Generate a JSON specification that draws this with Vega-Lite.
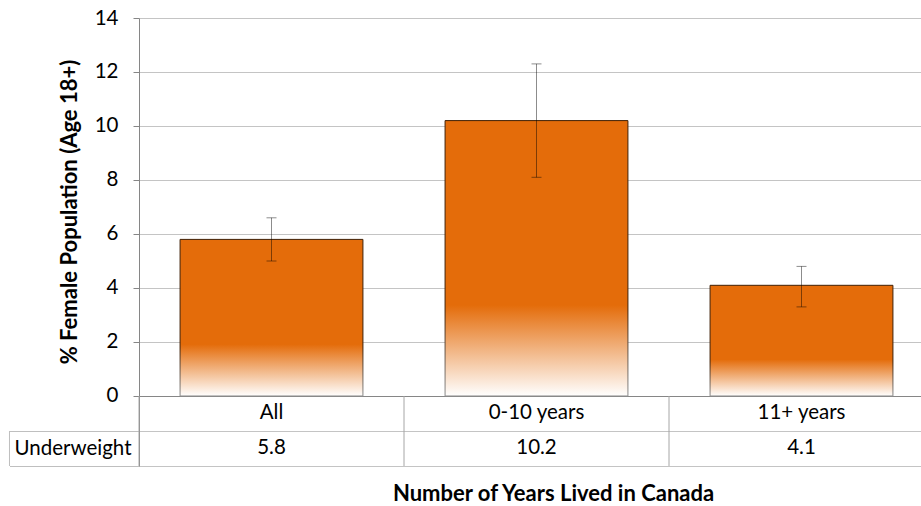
{
  "$schema": "https://vega.github.io/schema/vega-lite/v6.json",
  "width": 782,
  "height": 448,
  "autosize": "none",
  "padding": {"left": 139, "top": 18, "right": 0, "bottom": 40},
  "background": "white",
  "config": {"view": {"stroke": null}, "font": "Lato"},
  "data": {
    "values": [
      {"period": "All", "pct": 5.8, "lo": 5.0, "hi": 6.6},
      {"period": "0-10 years", "pct": 10.2, "lo": 8.1, "hi": 12.3},
      {"period": "11+ years", "pct": 4.1, "lo": 3.3, "hi": 4.8}
    ]
  },
  "encoding": {
    "x": {
      "field": "period",
      "type": "nominal",
      "sort": null,
      "scale": {"domain": ["All", "0-10 years", "11+ years"], "range": [0, 795], "paddingInner": 0, "paddingOuter": 0},
      "axis": {
        "domain": false,
        "ticks": false,
        "labels": false,
        "grid": false,
        "title": "Number of Years Lived in Canada",
        "titleFont": "Lato",
        "titleFontSize": 22,
        "titleFontWeight": "bold",
        "titleColor": "#000000",
        "titleX": 414,
        "titleY": 34,
        "titleBaseline": "alphabetic",
        "titleAlign": "center"
      }
    }
  },
  "layer": [
    {
      "mark": {
        "type": "bar",
        "width": {"band": 0.69},
        "fill": {
          "gradient": "linear",
          "x1": 0, "y1": 0, "x2": 0, "y2": 1,
          "stops": [
            {"offset": 0, "color": "#E46C0A"},
            {"offset": 0.67, "color": "#E46C0A"},
            {"offset": 1, "color": "#FFFFFF"}
          ]
        },
        "stroke": {
          "gradient": "linear",
          "x1": 0, "y1": 0, "x2": 0, "y2": 1,
          "stops": [
            {"offset": 0, "color": "#3F1F04"},
            {"offset": 0.69, "color": "#3F1F04"},
            {"offset": 1, "color": "#8C8C8C"}
          ]
        },
        "strokeWidth": 1
      },
      "encoding": {
        "y": {
          "field": "pct",
          "type": "quantitative",
          "scale": {"domain": [-2.5926, 14], "nice": false, "zero": false},
          "axis": {
            "title": "% Female Population (Age 18+)",
            "values": [0, 2, 4, 6, 8, 10, 12, 14, -1.2963, -2.5926, -1.9444],
            "labelExpr": "datum.value < -2 ? '' : datum.value < -1.5 ? 'Underweight' : datum.value < 0 ? '' : datum.label",
            "labelFont": "Lato",
            "labelFontSize": 20.5,
            "labelColor": "#000000",
            "labelBaseline": "middle",
            "labelPadding": {"condition": {"test": "datum.value < -1.5 && datum.value > -2", "value": 2}, "value": 15},
            "tickSize": {"condition": {"test": "datum.value < -1 && abs(datum.value + 1.9444) > 0.01", "value": 129.5}, "value": 6},
            "tickColor": {"condition": [{"test": "abs(datum.value + 1.9444) < 0.01", "value": "transparent"}, {"test": "datum.value < 0", "value": "#BFBFBF"}], "value": "#868686"},
            "gridColor": {"condition": [{"test": "abs(datum.value + 1.9444) < 0.01", "value": "transparent"}, {"test": "datum.value === 0", "value": "#868686"}], "value": "#C4C4C4"},
            "domainColor": "#868686",
            "titleFont": "Lato",
            "titleFontSize": 22,
            "titleFontWeight": "bold",
            "titleColor": "#000000",
            "titleX": -63,
            "titleY": 193.5,
            "titleBaseline": "alphabetic",
            "titleAlign": "center",
            "titleAngle": -90
          }
        }
      }
    },
    {
      "mark": {"type": "rule", "color": "#000000", "opacity": 0.45, "strokeWidth": 1},
      "encoding": {
        "y": {"field": "lo", "type": "quantitative"},
        "y2": {"field": "hi"}
      }
    },
    {
      "mark": {"type": "tick", "color": "#000000", "opacity": 0.45, "size": 10, "thickness": 1},
      "encoding": {"y": {"field": "lo", "type": "quantitative"}}
    },
    {
      "mark": {"type": "tick", "color": "#000000", "opacity": 0.45, "size": 10, "thickness": 1},
      "encoding": {"y": {"field": "hi", "type": "quantitative"}}
    },
    {
      "mark": {"type": "rule", "color": "#A6A6A6", "strokeWidth": 1},
      "encoding": {
        "x": {"field": "period", "type": "nominal", "sort": null, "bandPosition": 0},
        "y": {"datum": 0},
        "y2": {"datum": -2.5926}
      }
    },
    {
      "transform": [{"filter": "datum.period === 'All'"}],
      "mark": {"type": "rule", "color": "#BFBFBF", "strokeWidth": 1},
      "encoding": {
        "x": {"field": "period", "type": "nominal", "sort": null, "bandPosition": -0.4887},
        "y": {"datum": -1.2963},
        "y2": {"datum": -2.5926}
      }
    },
    {
      "mark": {"type": "text", "font": "Lato", "fontSize": 20.5, "color": "#000000", "baseline": "middle", "align": "center"},
      "encoding": {
        "y": {"datum": -0.648},
        "text": {"field": "period"}
      }
    },
    {
      "mark": {"type": "text", "font": "Lato", "fontSize": 20.5, "color": "#000000", "baseline": "middle", "align": "center"},
      "encoding": {
        "y": {"datum": -1.944},
        "text": {"field": "pct", "format": ".1f"}
      }
    }
  ]
}
